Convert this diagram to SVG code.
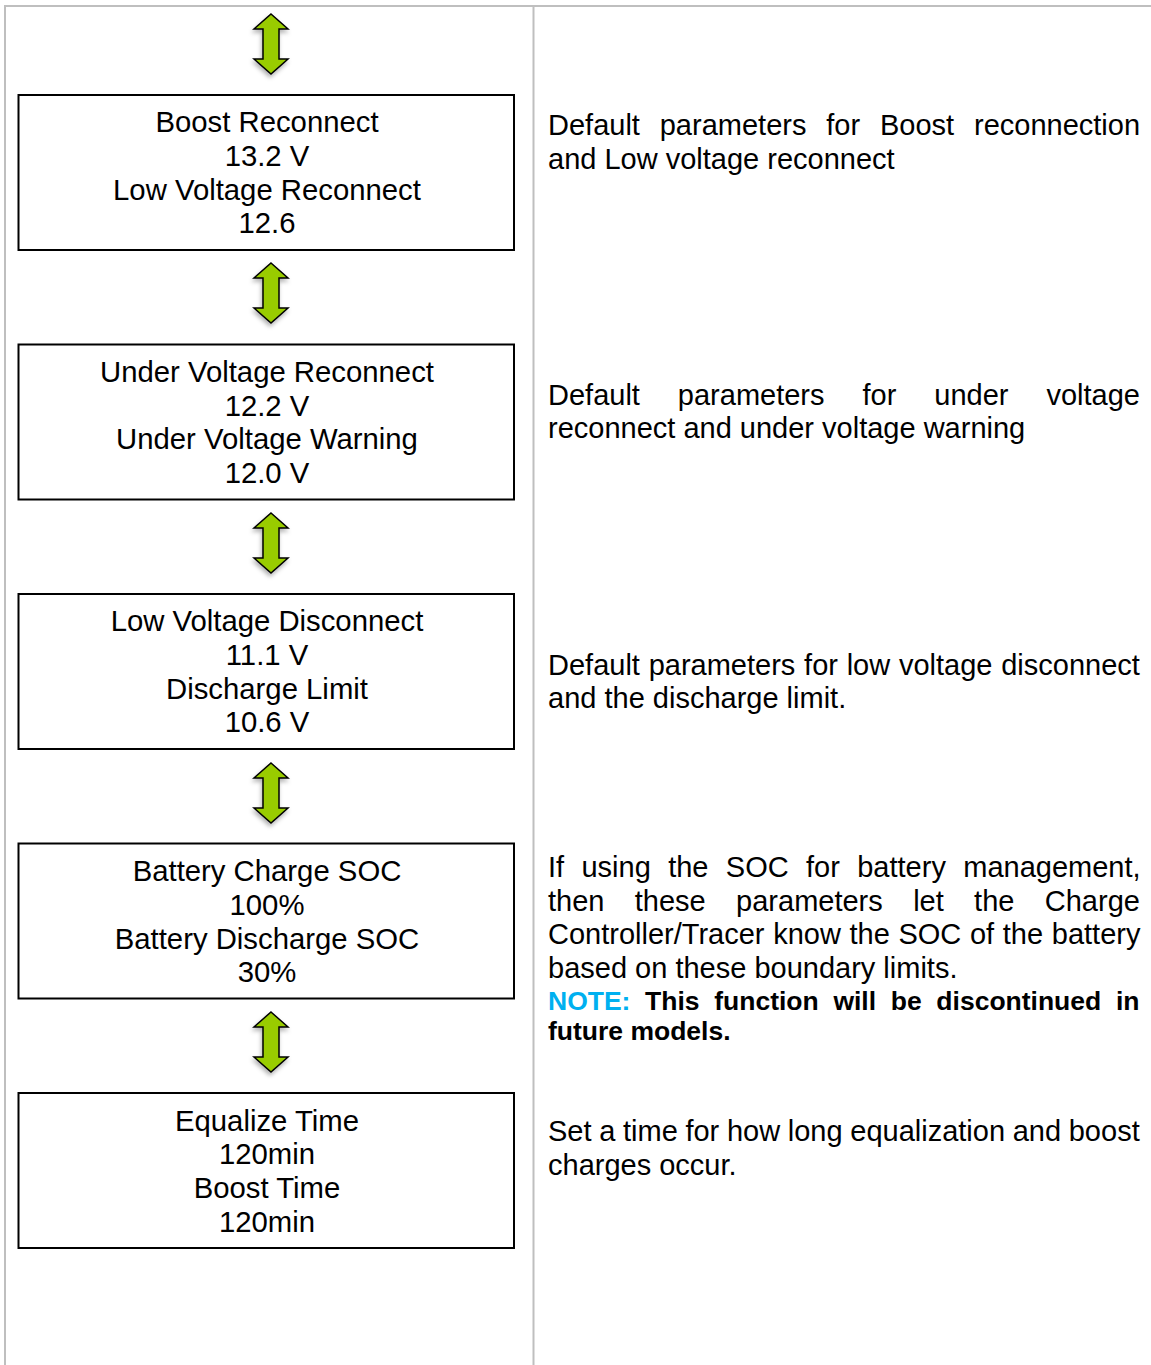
<svg xmlns="http://www.w3.org/2000/svg" width="1151" height="1365" viewBox="0 0 1151 1365">
<style>
.frame{stroke:#bfbfbf;stroke-width:2;fill:none}
.box{fill:#fff;stroke:#000;stroke-width:2}
.bt{font-family:"Liberation Sans",Arial,sans-serif;font-size:29.3px;fill:#000;text-anchor:middle}
.rt{font-family:"Liberation Sans",Arial,sans-serif;font-size:29px;fill:#000}
.nt{font-family:"Liberation Sans",Arial,sans-serif;font-size:26.5px;font-weight:bold;fill:#000}
.arr{fill:#99cc00;stroke:#000;stroke-width:1.5;stroke-linejoin:miter;filter:url(#sh)}
</style>
<defs>
<filter id="sh" x="-50%" y="-30%" width="200%" height="160%">
<feDropShadow dx="-1" dy="3" stdDeviation="2" flood-color="#000" flood-opacity="0.3"/>
</filter>
<path id="dbl" d="M0,0 L17,15 L8,15 L8,45 L17,45 L0,60 L-17,45 L-8,45 L-8,15 L-17,15 Z"/>
</defs>
<rect width="1151" height="1365" fill="#fff"/>
<g id="frame">
<line class="frame" x1="5" y1="6" x2="1151" y2="6"/>
<line class="frame" x1="5" y1="5" x2="5" y2="1365"/>
<line class="frame" x1="533.5" y1="6" x2="533.5" y2="1365"/>
</g>
<g id="connectors">
<use href="#dbl" class="arr" x="271" y="14"/>
<use href="#dbl" class="arr" x="271" y="263"/>
<use href="#dbl" class="arr" x="271" y="513"/>
<use href="#dbl" class="arr" x="271" y="763"/>
<use href="#dbl" class="arr" x="271" y="1012"/>
</g>
<g id="node-boost">
<rect class="box" x="18.5" y="95" width="495.5" height="155"/>
<text class="bt" x="267" y="132">Boost Reconnect</text>
<text class="bt" x="267" y="166">13.2 V</text>
<text class="bt" x="267" y="200">Low Voltage Reconnect</text>
<text class="bt" x="267" y="233">12.6</text>
</g>
<g id="node-under">
<rect class="box" x="18.5" y="344.5" width="495.5" height="155"/>
<text class="bt" x="267" y="382">Under Voltage Reconnect</text>
<text class="bt" x="267" y="416">12.2 V</text>
<text class="bt" x="267" y="449">Under Voltage Warning</text>
<text class="bt" x="267" y="483">12.0 V</text>
</g>
<g id="node-low">
<rect class="box" x="18.5" y="594" width="495.5" height="155"/>
<text class="bt" x="267" y="631">Low Voltage Disconnect</text>
<text class="bt" x="267" y="665">11.1 V</text>
<text class="bt" x="267" y="699">Discharge Limit</text>
<text class="bt" x="267" y="732">10.6 V</text>
</g>
<g id="node-soc">
<rect class="box" x="18.5" y="843.5" width="495.5" height="155"/>
<text class="bt" x="267" y="881">Battery Charge SOC</text>
<text class="bt" x="267" y="915">100%</text>
<text class="bt" x="267" y="949">Battery Discharge SOC</text>
<text class="bt" x="267" y="982">30%</text>
</g>
<g id="node-time">
<rect class="box" x="18.5" y="1093" width="495.5" height="155"/>
<text class="bt" x="267" y="1131">Equalize Time</text>
<text class="bt" x="267" y="1164">120min</text>
<text class="bt" x="267" y="1198">Boost Time</text>
<text class="bt" x="267" y="1232">120min</text>
</g>
<g id="desc-1">
<text class="rt" x="548" y="135" word-spacing="11.8">Default parameters for Boost reconnection</text>
<text class="rt" x="548" y="169">and Low voltage reconnect</text>
</g>
<g id="desc-2">
<text class="rt" x="548" y="405" word-spacing="29.9">Default parameters for under voltage</text>
<text class="rt" x="548" y="438">reconnect and under voltage warning</text>
</g>
<g id="desc-3">
<text class="rt" x="548" y="675" word-spacing="0.7">Default parameters for low voltage disconnect</text>
<text class="rt" x="548" y="708">and the discharge limit.</text>
</g>
<g id="desc-4">
<text class="rt" x="548" y="877" word-spacing="9.3">If using the SOC for battery management,</text>
<text class="rt" x="548" y="911" word-spacing="22.3">then these parameters let the Charge</text>
<text class="rt" x="548" y="944" word-spacing="0.6">Controller/Tracer know the SOC of the battery</text>
<text class="rt" x="548" y="978">based on these boundary limits.</text>
<text class="nt" x="548" y="1010" word-spacing="7.3"><tspan fill="#00b0f0">NOTE:</tspan> This function will be discontinued in</text>
<text class="nt" x="548" y="1040">future models.</text>
</g>
<g id="desc-5">
<text class="rt" x="548" y="1141" word-spacing="-0.4">Set a time for how long equalization and boost</text>
<text class="rt" x="548" y="1175">charges occur.</text>
</g>
</svg>
